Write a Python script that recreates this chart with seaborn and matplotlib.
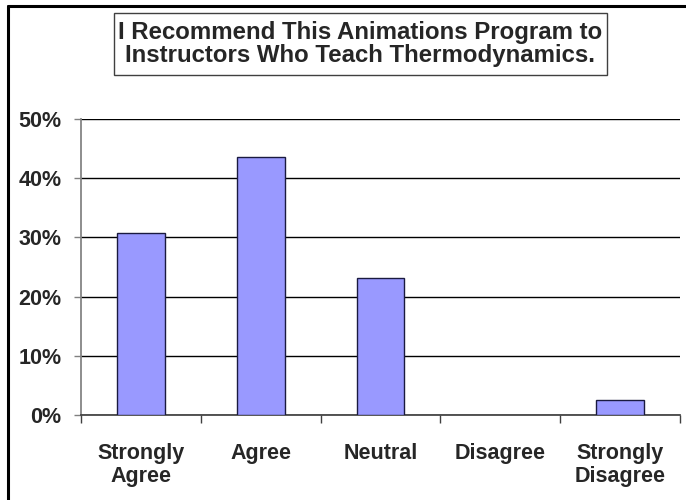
import numpy as np
import pandas as pd
import matplotlib
matplotlib.use('Agg')
import matplotlib.pyplot as plt
import seaborn as sns
from matplotlib.patches import Rectangle
from matplotlib.lines import Line2D
from matplotlib.ticker import PercentFormatter

categorias = ['Strongly\nAgree', 'Agree', 'Neutral', 'Disagree', 'Strongly\nDisagree']
porcentajes = [30.8, 43.6, 23.1, 0.0, 2.6]
titulo = 'I Recommend This Animations Program to\nInstructors Who Teach Thermodynamics.'

sns.set_theme(style='white')
plt.rcParams['font.family'] = ['Liberation Sans', 'DejaVu Sans']

df = pd.DataFrame({'respuesta': categorias, 'pct': porcentajes})

fig = plt.figure(figsize=(6.86, 5.0), dpi=100)
ax = fig.add_axes([81 / 686, 85 / 500, 599 / 686, 296 / 500])

sns.barplot(data=df, x='respuesta', y='pct', color='#9999FF', width=0.4,
            edgecolor='#1a1a40', linewidth=1.0, saturation=1, ax=ax, zorder=3)
# barras de altura cero no se dibujan
for p in ax.patches:
    if p.get_height() == 0:
        p.set_visible(False)

ax.set_ylim(0, 50)
ax.set_xlim(-0.5, 4.5)
ax.set_yticks(np.arange(0, 51, 10))
ax.yaxis.set_major_formatter(PercentFormatter(decimals=0))
ax.yaxis.grid(True, color='black', linewidth=1.0, zorder=0)
ax.set_axisbelow(True)
ax.set_xlabel('')
ax.set_ylabel('')

for s in ['top', 'right']:
    ax.spines[s].set_visible(False)
ax.spines['left'].set_color('#808080')
ax.spines['bottom'].set_color('#404040')

# ticks en los limites de cada categoria
ax.set_xticks(np.arange(-0.5, 4.6, 1.0), minor=False)
ax.set_xticklabels([])
ax.set_xticks(range(len(categorias)), minor=True)
ax.set_xticklabels(categorias, minor=True, fontsize=15.5, fontweight='bold',
                   linespacing=1.15)
ax.tick_params(axis='x', which='major', direction='out', length=6, width=1,
               color='#404040', bottom=True)
ax.tick_params(axis='x', which='minor', length=0, pad=20)
ax.tick_params(axis='y', direction='out', length=5, width=1, color='#808080',
               left=True, labelsize=15.5, pad=9)
for t in ax.get_yticklabels():
    t.set_fontweight('bold')

# titulo en caja
fig.patches.append(Rectangle((114 / 686, 1 - 75 / 500), 493 / 686, 62 / 500,
                             transform=fig.transFigure, facecolor='white',
                             edgecolor='#404040', linewidth=1.0))
fig.text(360 / 686, 1 - 44 / 500, titulo, ha='center', va='center',
         fontsize=17.3, fontweight='bold', linespacing=1.0)

# borde exterior (solo arriba e izquierda visibles)
fig.lines.append(Line2D([7.5 / 686, 7.5 / 686], [0, 1 - 6 / 500],
                        transform=fig.transFigure, color='black', linewidth=2.2))
fig.lines.append(Line2D([7.5 / 686, 1], [1 - 6 / 500, 1 - 6 / 500],
                        transform=fig.transFigure, color='black', linewidth=2.2))

fig.savefig('out.png', dpi=100)
